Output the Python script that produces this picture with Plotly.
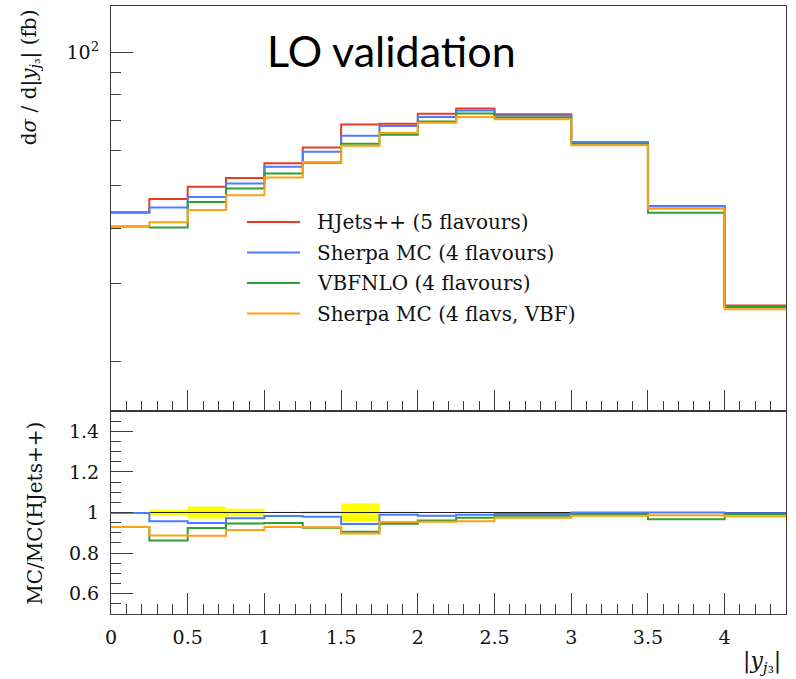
import numpy as np
import plotly.graph_objects as go

# |y_j3| bin edges
edges = [0, 0.25, 0.5, 0.75, 1.0, 1.25, 1.5, 1.75, 2.0, 2.25, 2.5, 3.0, 3.5, 4.0, 4.4]

# dsigma/d|y_j3| in fb, one value per bin
hjets = [43.5, 46.6, 49.7, 52.0, 56.1, 60.9, 68.6, 68.9, 72.6, 74.6, 72.4, 62.6, 44.9, 26.8]
sherpa_4f = [43.4, 44.6, 47.1, 50.5, 55.1, 59.6, 64.7, 68.1, 71.4, 73.8, 71.9, 62.6, 44.9, 26.7]
vbfnlo_4f = [40.4, 40.2, 45.9, 49.2, 53.2, 56.3, 62.1, 65.1, 69.7, 72.7, 71.2, 62.1, 43.4, 26.6]
sherpa_vbf = [40.4, 41.3, 44.0, 47.5, 52.1, 56.5, 61.5, 65.7, 69.3, 71.4, 70.5, 61.6, 44.3, 26.3]

# relative statistical uncertainty of the HJets++ reference
hjets_relerr = [0.003, 0.013, 0.030, 0.018, 0.004, 0.007, 0.046, 0.004, 0.003, 0.003, 0.002, 0.002, 0.003, 0.003]

labels = ["HJets++ (5 flavours)", "Sherpa MC (4 flavours)", "VBFNLO (4 flavours)", "Sherpa MC (4 flavs, VBF)"]
colors = ["#ea3a22", "#4a7cff", "#2f9e35", "#ffa012"]
series = [hjets, sherpa_4f, vbfnlo_4f, sherpa_vbf]

SERIF = "DejaVu Serif, serif"


def steps(vals):
    """Repeat the last bin value so an 'hv' line closes the final bin."""
    return list(vals) + [vals[-1]]


fig = go.Figure()

# main panel: differential cross sections
for vals, col, name in zip(series, colors, labels):
    fig.add_trace(go.Scatter(
        x=edges, y=steps(vals), mode="lines", line=dict(shape="hv", color=col, width=2),
        name=name, showlegend=False, xaxis="x", yaxis="y"))

# ratio panel: yellow uncertainty band of the reference
ref = np.array(hjets)
err = np.array(hjets_relerr)
fig.add_trace(go.Scatter(x=edges, y=steps(1 - err), mode="lines",
                         line=dict(shape="hv", width=0, color="rgba(0,0,0,0)"),
                         showlegend=False, hoverinfo="skip", xaxis="x2", yaxis="y2"))
fig.add_trace(go.Scatter(x=edges, y=steps(1 + err), mode="lines", fill="tonexty",
                         fillcolor="#ffff00", line=dict(shape="hv", width=0, color="rgba(0,0,0,0)"),
                         showlegend=False, hoverinfo="skip", xaxis="x2", yaxis="y2"))
fig.add_trace(go.Scatter(x=edges, y=steps(ref / ref), mode="lines",
                         line=dict(shape="hv", color="#222222", width=1.2),
                         showlegend=False, xaxis="x2", yaxis="y2"))
for vals, col, name in zip(series[1:], colors[1:], labels[1:]):
    fig.add_trace(go.Scatter(
        x=edges, y=steps(np.array(vals) / ref), mode="lines",
        line=dict(shape="hv", color=col, width=2),
        name=name, showlegend=False, xaxis="x2", yaxis="y2"))

# legend drawn as line samples plus labels inside the main panel
leg_x0, leg_x1, leg_tx = 0.2015, 0.2800, 0.3022
leg_top, leg_step = 0.6447, 0.0502
shapes = []
annotations = []
for i, (col, name) in enumerate(zip(colors, labels)):
    yy = leg_top - i * leg_step
    shapes.append(dict(type="line", xref="paper", yref="paper", x0=leg_x0, x1=leg_x1,
                       y0=yy, y1=yy, line=dict(color=col, width=2)))
    annotations.append(dict(text=name, xref="paper", yref="paper", x=leg_tx, y=yy,
                            xanchor="left", yanchor="middle", showarrow=False,
                            font=dict(family=SERIF, size=20, color="#111111")))

annotations += [
    dict(text="LO validation", xref="paper", yref="paper", x=0.416, y=0.9276,
         xanchor="center", yanchor="middle", showarrow=False,
         font=dict(family="Lato", size=43, color="#000000")),
    dict(text="d<i>σ</i> / d|<i>y</i><sub><i>j</i>₃</sub>| (fb)", xref="paper", yref="paper",
         x=-0.12, y=0.998, xanchor="center", yanchor="top", textangle=-90, showarrow=False,
         font=dict(family=SERIF, size=20, color="#111111")),
    dict(text="MC/MC(HJets++)", xref="paper", yref="paper",
         x=-0.113, y=0.166, xanchor="center", yanchor="middle", textangle=-90, showarrow=False,
         font=dict(family=SERIF, size=20, color="#111111")),
    dict(text="|<i>y</i><sub><i>j</i>₃</sub>|", xref="paper", yref="paper",
         x=0.9956, y=-0.079, xanchor="right", yanchor="middle", showarrow=False,
         font=dict(family=SERIF, size=22, color="#111111")),
]

AX = "#3a3a3a"
tickfont = dict(family=SERIF, size=19, color="#111111")
split = (614 - 411) / 608

xcommon = dict(range=[0, 4.4], showline=True, mirror=True, linecolor=AX, linewidth=1.2,
               ticks="inside", ticklen=21, tickcolor=AX, tickwidth=1.2, dtick=0.5, tick0=0,
               minor=dict(ticks="inside", ticklen=10, dtick=0.1, tick0=0, tickcolor=AX, tickwidth=1.2),
               showgrid=False, zeroline=False, tickfont=tickfont)

fig.update_layout(
    width=796, height=679,
    margin=dict(l=111, r=10, t=6, b=65),
    paper_bgcolor="white", plot_bgcolor="white",
    showlegend=False,
    xaxis=dict(xcommon, anchor="y", domain=[0, 1], showticklabels=False, matches="x2"),
    yaxis=dict(type="log", domain=[split, 1], range=[np.log10(15.5), np.log10(127)],
               showline=True, mirror=True, linecolor=AX, linewidth=1.2,
               ticks="inside", ticklen=22, tickcolor=AX, tickwidth=1.2,
               tickvals=[100], ticktext=["10<sup>2</sup>"],
               minor=dict(ticks="inside", ticklen=10, tickcolor=AX, tickwidth=1.2,
                          tickvals=[20, 30, 40, 50, 60, 70, 80, 90]),
               showgrid=False, zeroline=False, tickfont=tickfont, ticklabelstandoff=7),
    xaxis2=dict(xcommon, anchor="y2", domain=[0, 1], ticklabelstandoff=6),
    yaxis2=dict(domain=[0, split], range=[0.5, 1.5], anchor="x2",
                showline=True, mirror=True, linecolor=AX, linewidth=1.2,
                ticks="inside", ticklen=22, tickcolor=AX, tickwidth=1.2, dtick=0.2, tick0=0,
                minor=dict(ticks="inside", ticklen=10, dtick=0.05, tick0=0, tickcolor=AX, tickwidth=1.2),
                showgrid=False, zeroline=False, tickfont=tickfont, ticklabelstandoff=7),
    shapes=shapes,
    annotations=annotations,
)

fig.write_html("out.html")
